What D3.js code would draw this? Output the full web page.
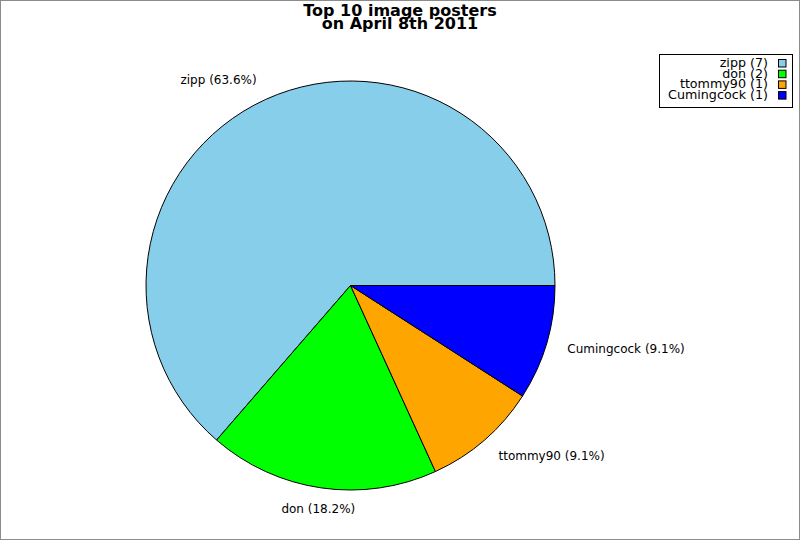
<!DOCTYPE html>
<html>
<head>
<meta charset="utf-8">
<script src="https://cdn.jsdelivr.net/npm/d3@7"></script>
<style>
  body { margin: 0; background: #fff; }
  text { font-family: "DejaVu Sans", sans-serif; }
</style>
</head>
<body>
<div id="chart"></div>
<script>
// data
var names = ["zipp", "don", "ttommy90", "Cumingcock"];
var counts = [7, 2, 1, 1];
var colors = ["#87ceeb", "#00ff00", "#ffa500", "#0000ff"];
var titleLines = ["Top 10 image posters", "on April 8th 2011"];

function main(){
    var canvasWidth = 800;
    var canvasHeight = 540;

    var svg = d3.select("#chart").append("svg")
        .attr("width", canvasWidth)
        .attr("height", canvasHeight);

    // gray frame round the image
    svg.append("rect")
        .attr("x", 0.5).attr("y", 0.5)
        .attr("width", canvasWidth - 1).attr("height", canvasHeight - 1)
        .attr("fill", "#fff")
        .attr("stroke", "#8c8c8c");

    // title
    svg.append("g").selectAll("text")
        .data(titleLines)
        .enter().append("text")
        .attr("x", 400)
        .attr("y", function(d, i) { return 15.5 + i * 13.5; })
        .attr("text-anchor", "middle")
        .attr("font-size", "16px")
        .attr("font-weight", "bold")
        .text(function(d) { return d; });

    var cx = 350.5, cy = 285.5, radius = 204.5;
    var total = d3.sum(counts);
    var color = d3.scaleOrdinal().domain(names).range(colors);

    // start at 3 o'clock, go counter clockwise
    var pie = d3.pie()
        .sort(null)
        .startAngle(Math.PI / 2)
        .endAngle(Math.PI / 2 - 2 * Math.PI)
        .value(function(d) { return d.count; });

    var rows = names.map(function(n, i) { return {name: n, count: counts[i]}; });
    var arcs = pie(rows);

    var arc = d3.arc().innerRadius(0).outerRadius(radius);

    var g = svg.append("g")
        .attr("transform", "translate(" + cx + "," + cy + ")");

    g.selectAll(".slice")
        .data(arcs)
        .enter().append("path")
        .attr("class", "slice")
        .attr("d", arc)
        .attr("fill", function(d) { return color(d.data.name); })
        .attr("stroke", "#000")
        .attr("stroke-width", 1);

    // labels outside the pie
    var labelR = 226;
    g.selectAll(".lbl")
        .data(arcs)
        .enter().append("text")
        .attr("class", "lbl")
        .attr("font-size", "12px")
        .each(function(d) {
            var a = (d.startAngle + d.endAngle) / 2;
            var sx = Math.sin(a), sy = -Math.cos(a);
            var anchor = sx > 0.3 ? "start" : (sx < -0.3 ? "end" : "middle");
            d3.select(this)
                .attr("x", sx * labelR)
                .attr("y", sy * labelR)
                .attr("dy", "0.35em")
                .attr("text-anchor", anchor)
                .text(d.data.name + " (" + (d.data.count / total * 100).toFixed(1) + "%)");
        });

    // legend
    var legend = svg.append("g");
    legend.append("rect")
        .attr("x", 659.5).attr("y", 54.5)
        .attr("width", 133).attr("height", 53)
        .attr("fill", "#fff")
        .attr("stroke", "#000");

    var item = legend.selectAll(".item")
        .data(rows)
        .enter().append("g")
        .attr("class", "item")
        .attr("transform", function(d, i) { return "translate(0," + (i * 10.7) + ")"; });

    item.append("text")
        .attr("x", 768)
        .attr("y", 67)
        .attr("text-anchor", "end")
        .attr("font-size", "12.7px")
        .text(function(d) { return d.name + " (" + d.count + ")"; });

    item.append("rect")
        .attr("x", 778.5).attr("y", 59.5)
        .attr("width", 7.5).attr("height", 7.5)
        .attr("fill", function(d) { return color(d.name); })
        .attr("stroke", "#000");
}

main()
</script>
</body>
</html>
